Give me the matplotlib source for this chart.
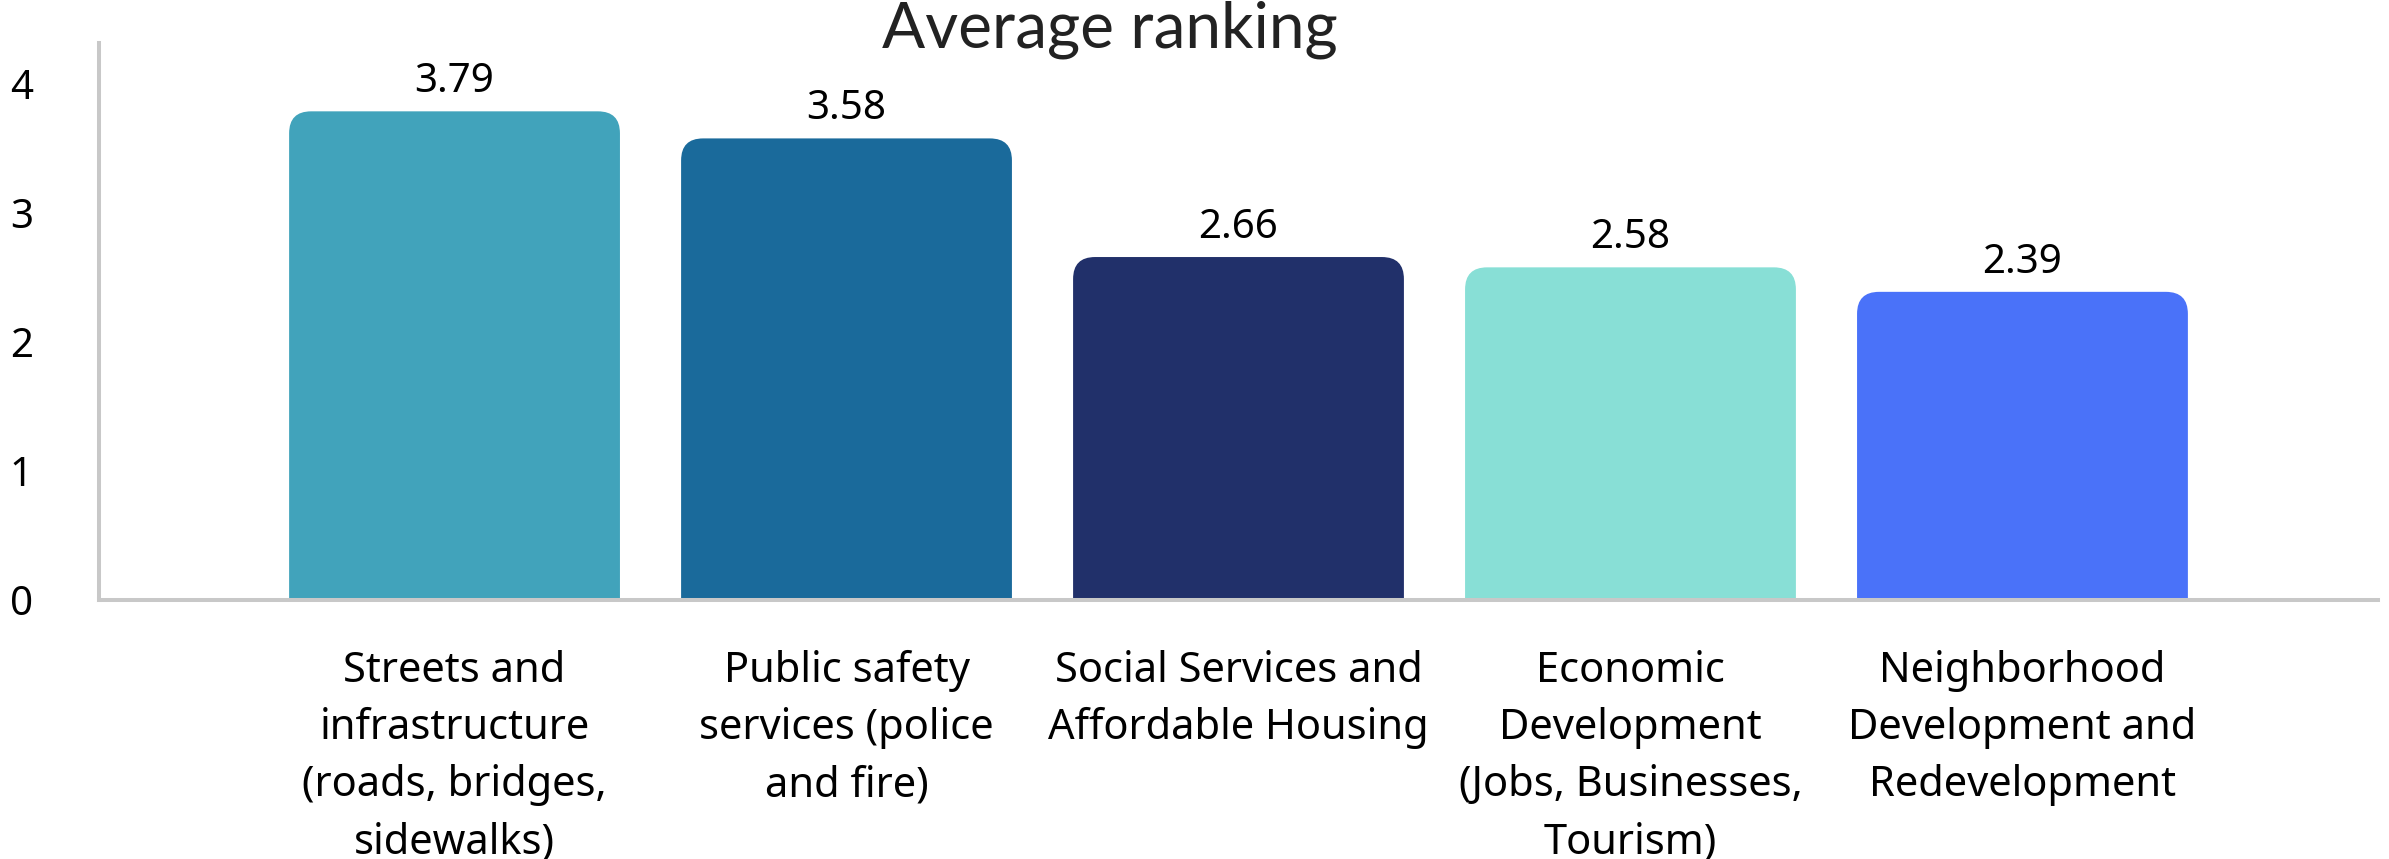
import matplotlib
matplotlib.use("Agg")
import matplotlib.pyplot as plt
from matplotlib.path import Path
from matplotlib.patches import PathPatch

categories = [
    "Streets and\ninfrastructure\n(roads, bridges,\nsidewalks)",
    "Public safety\nservices (police\nand fire)",
    "Social Services and\nAffordable Housing",
    "Economic\nDevelopment\n(Jobs, Businesses,\nTourism)",
    "Neighborhood\nDevelopment and\nRedevelopment",
]
values = [3.79, 3.58, 2.66, 2.58, 2.39]
value_labels = ["3.79", "3.58", "2.66", "2.58", "2.39"]
colors = ["#41A3BB", "#1A6A9B", "#21306A", "#88DFD6", "#4A72F9"]
yticks = [0, 1, 2, 3, 4]
title = "Average ranking"

W, H, DPI = 2389, 859, 100
fig = plt.figure(figsize=(W / DPI, H / DPI), dpi=DPI)
fig.patch.set_facecolor("white")
ax = fig.add_axes([99 / W, 1 - 600 / H, (2378 - 99) / W, (600 - 43) / H])

label_font = ["Noto Sans", "DejaVu Sans"]
x = list(range(len(values)))
bars = ax.bar(x, values, width=0.844, color=colors)
ax.set_xlim(-0.907, 4.907)
ax.set_ylim(0, 4.32)

# rounded top corners
px_per_x = (2378 - 99) / (4.907 + 0.907)
px_per_y = (600 - 43) / 4.32
r_px = 22
rx, ry = r_px / px_per_x, r_px / px_per_y
for i, b in enumerate(bars):
    x0, y0 = b.get_x(), b.get_y()
    w, h = b.get_width(), b.get_height()
    x1, y1 = x0 + w, y0 + h
    verts = [
        (x0, y0), (x0, y1 - ry), (x0, y1), (x0 + rx, y1),
        (x1 - rx, y1), (x1, y1), (x1, y1 - ry), (x1, y0), (x0, y0),
    ]
    codes = [Path.MOVETO, Path.LINETO, Path.CURVE3, Path.CURVE3,
             Path.LINETO, Path.CURVE3, Path.CURVE3, Path.LINETO, Path.CLOSEPOLY]
    patch = PathPatch(Path(verts, codes), facecolor=b.get_facecolor(),
                      edgecolor="none", zorder=2)
    b.set_visible(False)
    ax.add_patch(patch)
    ax.text(x0 + w / 2, y1 + 0.07, value_labels[i],
            ha="center", va="bottom", fontsize=29, family=label_font, color="black")

for s in ["top", "right"]:
    ax.spines[s].set_visible(False)
for s in ["left", "bottom"]:
    ax.spines[s].set_color("#C8C8C8")
    ax.spines[s].set_linewidth(2.9)

ax.set_xticks(x)
ax.set_xticklabels(categories, fontsize=30, family=label_font, linespacing=1.47)
ax.set_yticks(yticks)
ax.set_yticklabels([str(t) for t in yticks], fontsize=29, family=label_font)
ax.tick_params(axis="both", length=0)
ax.tick_params(axis="x", pad=36)
ax.tick_params(axis="y", pad=56)
for lab in ax.get_yticklabels():
    lab.set_horizontalalignment("center")

fig.text(1110 / W, 1 - 30 / H, title, ha="center", va="center",
         fontsize=46, family=["Lato", "DejaVu Sans"], fontweight="normal", color="#222222")

fig.savefig("out.png", dpi=DPI, facecolor="white")
